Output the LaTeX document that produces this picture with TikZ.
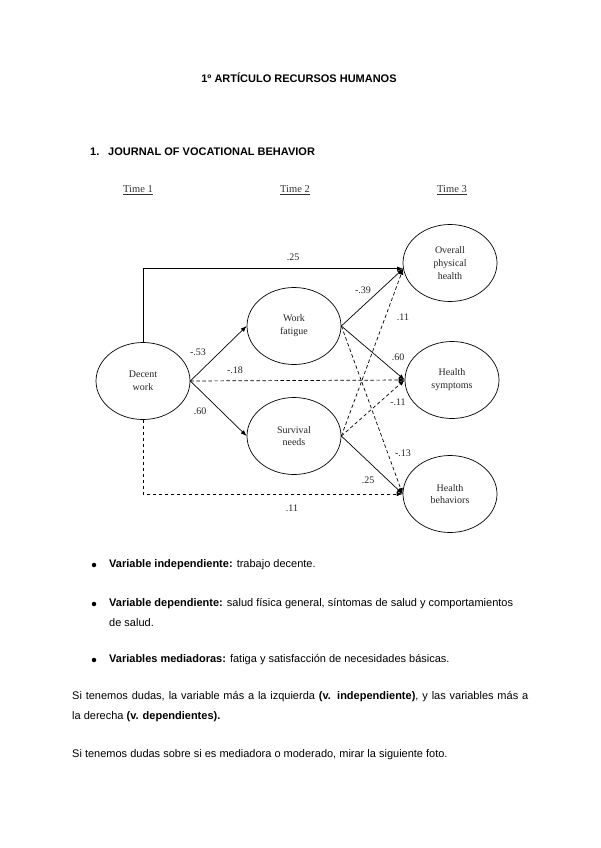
\documentclass[tikz,border=0pt]{standalone}
\usepackage{fontspec}
\setmainfont{Liberation Serif}
\setsansfont{Liberation Sans}
\usetikzlibrary{shapes.geometric,arrows.meta}

\begin{document}
\begin{tikzpicture}[x=1pt,y=-1pt,
  var/.style={ellipse, draw, line width=0.7pt, minimum width=94pt, minimum height=77pt,
    inner sep=0pt, align=center, text=black!85, font=\fontsize{10}{12.8}\selectfont},
  eff/.style={line width=0.7pt, -{Latex[length=6pt,width=4.5pt]}},
  weak/.style={eff, dash pattern=on 3.5pt off 2.5pt},
  coef/.style={fill=white, inner sep=1pt, text=black!85, font=\fontsize{10}{12}\selectfont},
  time/.style={text=black!80, font=\fontsize{10.5}{12}\selectfont},
  dot/.style={circle, fill, inner sep=0pt, minimum size=4.5pt},
  head/.style={anchor=west, inner sep=0pt, font=\sffamily\bfseries\fontsize{11}{13}\selectfont},
  txt/.style={anchor=west, inner sep=0pt, font=\sffamily\fontsize{11}{13}\selectfont}]
  \useasboundingbox[fill=white] (0,0) rectangle (600,848);

  \node[head, anchor=center] (title) at (299,78) {1º ARTÍCULO RECURSOS HUMANOS};
  \node[head] (num) at (90,152) {1.};
  \node[head] (journal) at (108,152) {JOURNAL OF VOCATIONAL BEHAVIOR};

  \node[time] (T1) at (138,190) {\underline{Time 1}};
  \node[time] (T2) at (295,190) {\underline{Time 2}};
  \node[time] (T3) at (452,190) {\underline{Time 3}};

  \node[var] (DW) at (143,381) {Decent\\work};
  \node[var] (WF) at (294,326) {Work\\fatigue};
  \node[var] (SN) at (294,436) {Survival\\needs};
  \node[var] (OH) at (450,263) {Overall\\physical\\health};
  \node[var] (HS) at (452,380) {Health\\symptoms};
  \node[var] (HB) at (450,494) {Health\\behaviors};

  \draw[eff] (DW.north) |- (OH.187);
  \draw[eff] (DW.east) -- (WF.west);
  \draw[eff] (DW.east) -- (SN.west);
  \draw[weak] (DW.east) -- (HS.west);
  \draw[weak] (DW.south) |- (HB.west);
  \draw[eff] (WF.east) -- (OH.187);
  \draw[eff] (WF.east) -- (HS.west);
  \draw[weak] (WF.east) -- (HB.west);
  \draw[weak] (SN.east) -- (OH.187);
  \draw[weak] (SN.east) -- (HS.west);
  \draw[eff] (SN.east) -- (HB.west);

  \node[coef] (c1) at (293,257) {.25};
  \node[coef] (c2) at (198,352) {-.53};
  \node[coef] (c3) at (200,411) {.60};
  \node[coef] (c4) at (235,370) {-.18};
  \node[coef] (c5) at (292,508) {.11};
  \node[coef] (c6) at (363,290) {-.39};
  \node[coef] (c7) at (398,357) {.60};
  \node[coef] (c8) at (403,317) {.11};
  \node[coef] (c9) at (398,402) {-.11};
  \node[coef] (c10) at (403,453) {-.13};
  \node[coef] (c11) at (368,480) {.25};

  \node[dot] (b1) at (94,565) {};
  \node[txt] (i1) at (109,565) {\textbf{Variable independiente:} trabajo decente.};
  \node[dot] (b2) at (94,604) {};
  \node[txt] (i2) at (109,604) {\textbf{Variable dependiente:} salud física general, síntomas de salud y comportamientos};
  \node[txt] (i2b) at (109,623) {de salud.};
  \node[dot] (b3) at (94,660) {};
  \node[txt] (i3) at (109,660) {\textbf{Variables mediadoras:} fatiga y satisfacción de necesidades básicas.};

  \node[txt] (p1) at (72,697) {\makebox[456pt][s]{Si tenemos dudas, la variable más a la izquierda \textbf{(v. independiente)}, y las variables más a}};
  \node[txt] (p1b) at (72,717) {la derecha \textbf{(v. dependientes).}};
  \node[txt] (p2) at (72,755) {Si tenemos dudas sobre si es mediadora o moderado, mirar la siguiente foto.};
\end{tikzpicture}
\end{document}
